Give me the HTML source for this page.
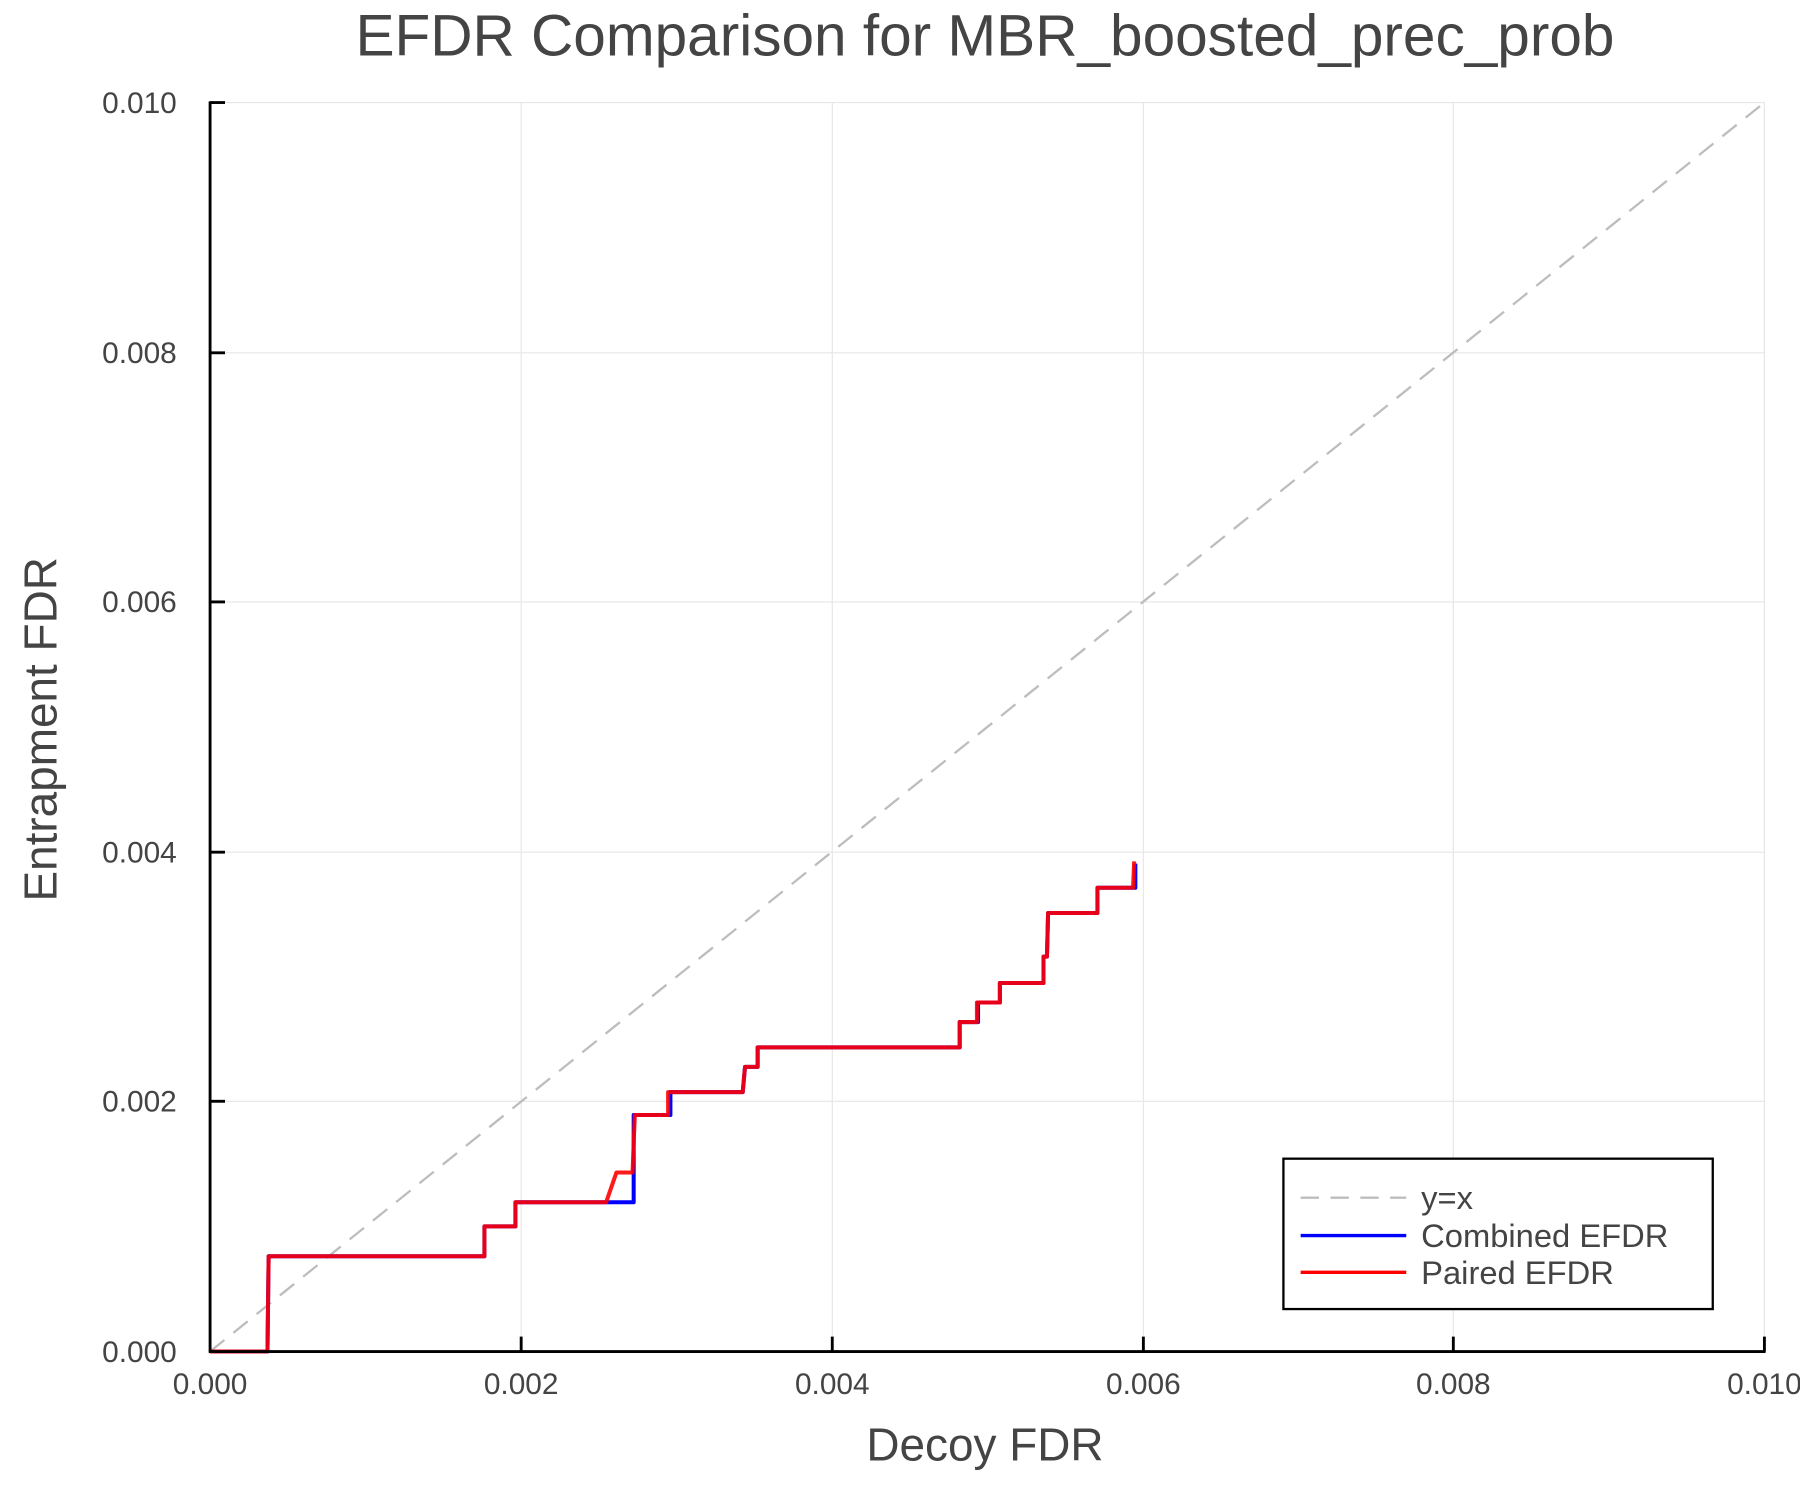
<!DOCTYPE html>
<html><head><meta charset="utf-8"><style>html,body{margin:0;padding:0;background:#fff}svg{display:block}</style></head>
<body>
<svg width="1800" height="1500" viewBox="0 0 1568 1306" xmlns="http://www.w3.org/2000/svg" font-family="Liberation Sans, sans-serif">
<rect width="1568" height="1306" fill="#fff"/>
<g stroke="#e6e6e6" stroke-width="1">
<line x1="454" y1="89" x2="454" y2="1177"/><line x1="725" y1="89" x2="725" y2="1177"/><line x1="996" y1="89" x2="996" y2="1177"/><line x1="1266" y1="89" x2="1266" y2="1177"/><line x1="1537" y1="89" x2="1537" y2="1177"/>
<line x1="183" y1="89" x2="1537" y2="89"/><line x1="183" y1="307" x2="1537" y2="307"/><line x1="183" y1="524" x2="1537" y2="524"/><line x1="183" y1="742" x2="1537" y2="742"/><line x1="183" y1="959" x2="1537" y2="959"/>
</g>
<line x1="183" y1="1177" x2="1537" y2="89" stroke="#bdbdbd" stroke-width="2" stroke-dasharray="16,10"/>
<polyline fill="none" stroke="#0000ff" stroke-width="3.5" stroke-linejoin="round" points="183,1177 233,1177 234,1094 422,1094 422,1068 449,1068 449,1047 552,1047 552,971 584,971 584,951 647,951 649,929 660,929 660,912 836,912 836,890 852,890 852,873 871,873 871,856 909,856 909,833 912,833 913,795 956,795 956,773 989,773 989,752"/>
<polyline fill="none" stroke="#ff0000" stroke-opacity="0.9" stroke-width="3.5" stroke-linejoin="round" points="183,1177 233,1177 234,1094 422,1094 422,1068 449,1068 449,1047 528,1047 537,1021 551,1021 553,971 582,971 582,951 647,951 649,929 660,929 660,912 836,912 836,890 851,890 851,873 871,873 871,856 909,856 909,833 912,833 913,795 956,795 956,773 987,773 988,750"/>
<g stroke="#000" stroke-width="2.5">
<line x1="183" y1="88" x2="183" y2="1178"/><line x1="182" y1="1177" x2="1538" y2="1177"/>
<line x1="183" y1="89" x2="196" y2="89"/><line x1="183" y1="307" x2="196" y2="307"/><line x1="183" y1="524" x2="196" y2="524"/><line x1="183" y1="742" x2="196" y2="742"/><line x1="183" y1="959" x2="196" y2="959"/>
<line x1="454" y1="1177" x2="454" y2="1164"/><line x1="725" y1="1177" x2="725" y2="1164"/><line x1="996" y1="1177" x2="996" y2="1164"/><line x1="1266" y1="1177" x2="1266" y2="1164"/><line x1="1537" y1="1177" x2="1537" y2="1164"/>
</g>
<g fill="#444" font-size="26" text-anchor="end">
<text x="154" y="98">0.010</text><text x="154" y="316">0.008</text><text x="154" y="533">0.006</text><text x="154" y="751">0.004</text><text x="154" y="968">0.002</text><text x="154" y="1186">0.000</text>
</g>
<g fill="#444" font-size="26" text-anchor="middle">
<text x="183" y="1214">0.000</text><text x="454" y="1214">0.002</text><text x="725" y="1214">0.004</text><text x="996" y="1214">0.006</text><text x="1266" y="1214">0.008</text><text x="1537" y="1214">0.010</text>
</g>
<text x="858" y="48" fill="#444" font-size="51" text-anchor="middle">EFDR Comparison for MBR_boosted_prec_prob</text>
<text x="858" y="1272" fill="#444" font-size="40" text-anchor="middle">Decoy FDR</text>
<text transform="translate(49,635) rotate(-90)" fill="#444" font-size="40" text-anchor="middle">Entrapment FDR</text>
<rect x="1118" y="1009" width="374" height="131" fill="#fff" stroke="#000" stroke-width="2"/>
<line x1="1133" y1="1043" x2="1225" y2="1043" stroke="#bdbdbd" stroke-width="2" stroke-dasharray="16,10"/>
<line x1="1133" y1="1076" x2="1225" y2="1076" stroke="#0000ff" stroke-width="3"/>
<line x1="1133" y1="1108" x2="1225" y2="1108" stroke="#ff0000" stroke-width="3"/>
<g fill="#444" font-size="28.5">
<text x="1238" y="1053">y=x</text><text x="1238" y="1086">Combined EFDR</text><text x="1238" y="1118">Paired EFDR</text>
</g>
</svg>
</body></html>
